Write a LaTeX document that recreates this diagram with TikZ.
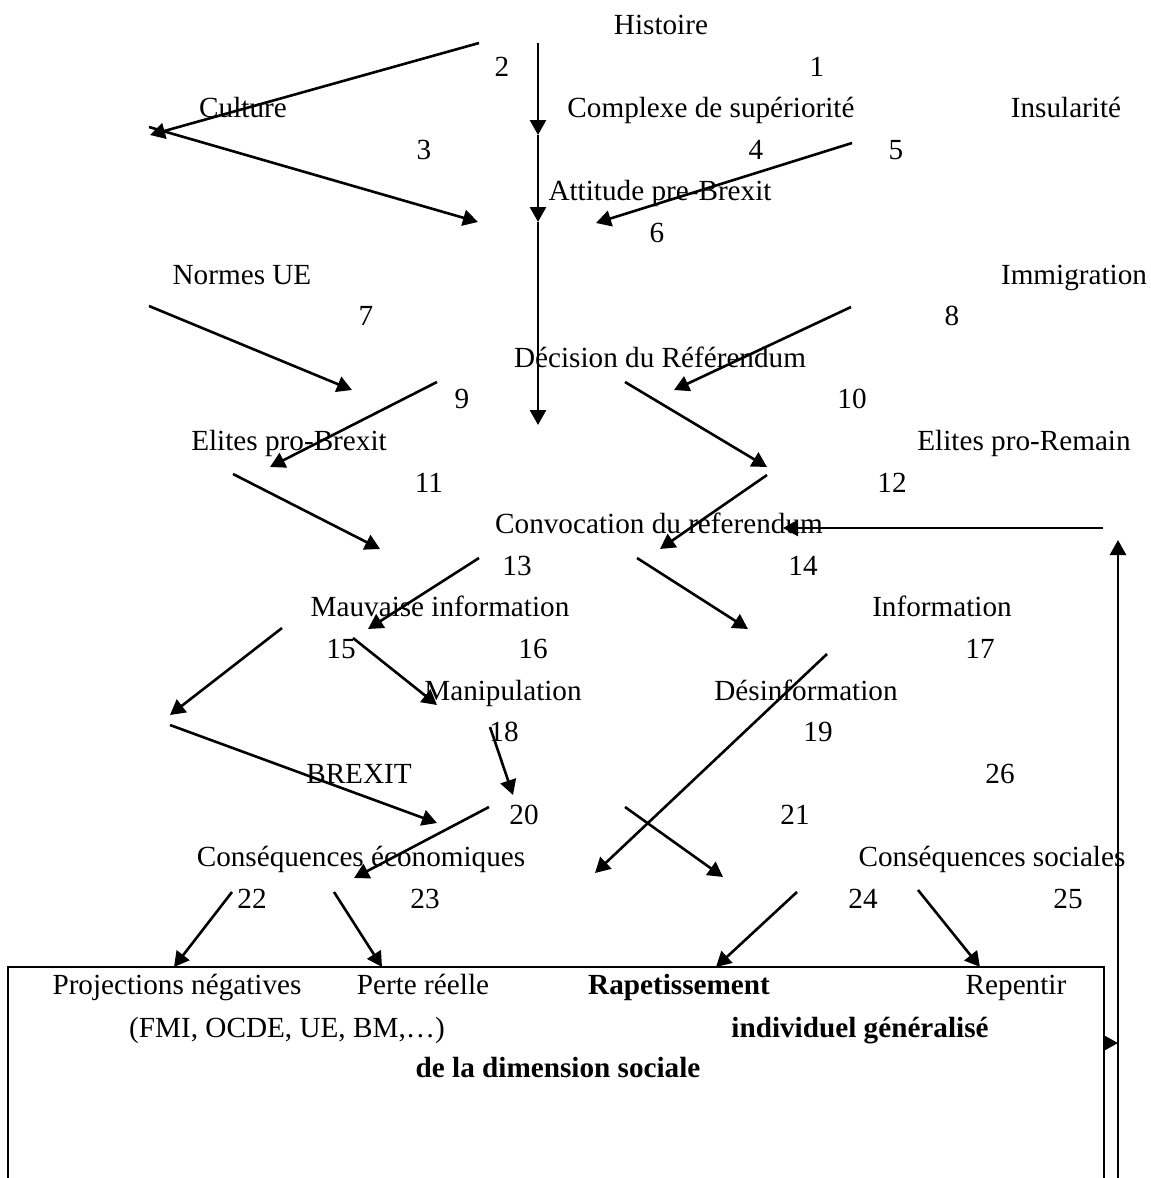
\documentclass[tikz,border=0pt]{standalone}
\usepackage{fontspec}
\setmainfont{Liberation Serif}
\usetikzlibrary{arrows.meta}

\begin{document}
\begin{tikzpicture}[
  x=0.5pt, y=-0.5pt,
  font=\fontsize{14.6}{17.5}\selectfont,
  lbl/.style={anchor=base, inner sep=0pt},
  num/.style={anchor=base, inner sep=0pt},
  arrow/.style={-{Triangle[length=7.5pt,width=8pt]}, line width=1.3pt},
  frame/.style={line width=1.3pt}
]
\useasboundingbox (0,0) rectangle (1151,1178);

% labels, row by row
\node[lbl] (histoire) at (661,34) {Histoire};
\node[num] (n2) at (502,76) {2};
\node[num] (n1) at (817,76) {1};
\node[lbl] (culture) at (243,117) {Culture};
\node[lbl] (complexe) at (711,117) {Complexe de supériorité};
\node[lbl] (insularite) at (1066,117) {Insularité};
\node[num] (n3) at (424,159) {3};
\node[num] (n4) at (756,159) {4};
\node[num] (n5) at (896,159) {5};
\node[lbl] (attitude) at (660,200) {Attitude pre-Brexit};
\node[num] (n6) at (657,242) {6};
\node[lbl] (normes) at (242,284) {Normes UE};
\node[lbl] (immigration) at (1074,284) {Immigration};
\node[num] (n7) at (366,325) {7};
\node[num] (n8) at (952,325) {8};
\node[lbl] (decision) at (660,367) {Décision du Référendum};
\node[num] (n9) at (462,408) {9};
\node[num] (n10) at (852,408) {10};
\node[lbl] (elitesbrexit) at (289,450) {Elites pro-Brexit};
\node[lbl] (elitesremain) at (1024,450) {Elites pro-Remain};
\node[num] (n11) at (429,492) {11};
\node[num] (n12) at (892,492) {12};
\node[lbl] (convocation) at (659,533) {Convocation du referendum};
\node[num] (n13) at (517,575) {13};
\node[num] (n14) at (803,575) {14};
\node[lbl] (mauvaise) at (440,616) {Mauvaise information};
\node[lbl] (information) at (942,616) {Information};
\node[num] (n15) at (341,658) {15};
\node[num] (n16) at (533,658) {16};
\node[num] (n17) at (980,658) {17};
\node[lbl] (manipulation) at (503,700) {Manipulation};
\node[lbl] (desinformation) at (806,700) {Désinformation};
\node[num] (n18) at (504,741) {18};
\node[num] (n19) at (818,741) {19};
\node[lbl] (brexit) at (359,783) {BREXIT};
\node[num] (n26) at (1000,783) {26};
\node[num] (n20) at (524,824) {20};
\node[num] (n21) at (795,824) {21};
\node[lbl] (conseco) at (361,866) {Conséquences économiques};
\node[lbl] (conssoc) at (992,866) {Conséquences sociales};
\node[num] (n22) at (252,908) {22};
\node[num] (n23) at (425,908) {23};
\node[num] (n24) at (863,908) {24};
\node[num] (n25) at (1068,908) {25};

% box at the bottom
\node[lbl] (projections) at (177,994) {Projections négatives};
\node[lbl] (perte) at (423,994) {Perte réelle};
\node[lbl] (rapetissement) at (679,994) {\textbf{Rapetissement}};
\node[lbl] (repentir) at (1016,994) {Repentir};
\node[lbl] (fmi) at (287,1037) {(FMI, OCDE, UE, BM,…)};
\node[lbl] (individuel) at (860,1037) {\textbf{individuel généralisé}};
\node[lbl] (dimension) at (558,1077) {\textbf{de la dimension sociale}};

\coordinate (boxbl) at (8,1178);
\coordinate (boxtl) at (8,967);
\coordinate (boxtr) at (1104,967);
\coordinate (boxbr) at (1104,1178);
\draw[frame] (boxbl) -- (boxtl) -- (boxtr) -- (boxbr);

% arrow ends
\coordinate (s1) at (538,43);   \coordinate (e1) at (538,135);
\coordinate (e4) at (538,222);  \coordinate (e6) at (538,425);
\coordinate (s2) at (479,43);   \coordinate (e2) at (150,135);
\coordinate (s3) at (149,127);  \coordinate (e3) at (478,222);
\coordinate (s5) at (852,143);  \coordinate (e5) at (596,223);
\coordinate (s7) at (149,306);  \coordinate (e7) at (352,390);
\coordinate (s8) at (851,307);  \coordinate (e8) at (674,390);
\coordinate (s9) at (437,382);  \coordinate (e9) at (270,467);
\coordinate (s10) at (625,382); \coordinate (e10) at (767,467);
\coordinate (s11) at (233,474); \coordinate (e11) at (380,549);
\coordinate (s12) at (767,475); \coordinate (e12) at (660,549);
\coordinate (s13) at (479,558); \coordinate (e13) at (368,629);
\coordinate (s14) at (637,558); \coordinate (e14) at (748,629);
\coordinate (s15) at (282,628); \coordinate (e15) at (170,715);
\coordinate (s16) at (353,638); \coordinate (e16) at (437,705);
\coordinate (s17) at (827,654); \coordinate (e17) at (595,873);
\coordinate (s19) at (170,725); \coordinate (e19) at (437,823);
\coordinate (s18) at (490,727); \coordinate (e18) at (513,795);
\coordinate (s20) at (489,807); \coordinate (e20) at (354,878);
\coordinate (s21) at (625,807); \coordinate (e21) at (723,877);
\coordinate (s22) at (232,892); \coordinate (e22) at (174,967);
\coordinate (s23) at (334,892); \coordinate (e23) at (382,967);
\coordinate (s24) at (797,892); \coordinate (e24) at (716,967);
\coordinate (s25) at (918,890); \coordinate (e25) at (980,967);
\coordinate (sback) at (1104,1043); \coordinate (eback) at (1118,1043);
\coordinate (sup) at (1118,1178); \coordinate (eup) at (1118,540);
\coordinate (sleft) at (1103,528); \coordinate (eleft) at (783,528);

\draw[arrow] (s1) -- (e1);
\draw[arrow] (e1) -- (e4);
\draw[arrow] (e4) -- (e6);
\draw[arrow] (s2) -- (e2);
\draw[arrow] (s3) -- (e3);
\draw[arrow] (s5) -- (e5);
\draw[arrow] (s7) -- (e7);
\draw[arrow] (s8) -- (e8);
\draw[arrow] (s9) -- (e9);
\draw[arrow] (s10) -- (e10);
\draw[arrow] (s11) -- (e11);
\draw[arrow] (s12) -- (e12);
\draw[arrow] (s13) -- (e13);
\draw[arrow] (s14) -- (e14);
\draw[arrow] (s15) -- (e15);
\draw[arrow] (s16) -- (e16);
\draw[arrow] (s17) -- (e17);
\draw[arrow] (s19) -- (e19);
\draw[arrow] (s18) -- (e18);
\draw[arrow] (s20) -- (e20);
\draw[arrow] (s21) -- (e21);
\draw[arrow] (s22) -- (e22);
\draw[arrow] (s23) -- (e23);
\draw[arrow] (s24) -- (e24);
\draw[arrow] (s25) -- (e25);
\draw[arrow] (sback) -- (eback);
\draw[arrow] (sup) -- (eup);
\draw[arrow] (sleft) -- (eleft);
\end{tikzpicture}
\end{document}
